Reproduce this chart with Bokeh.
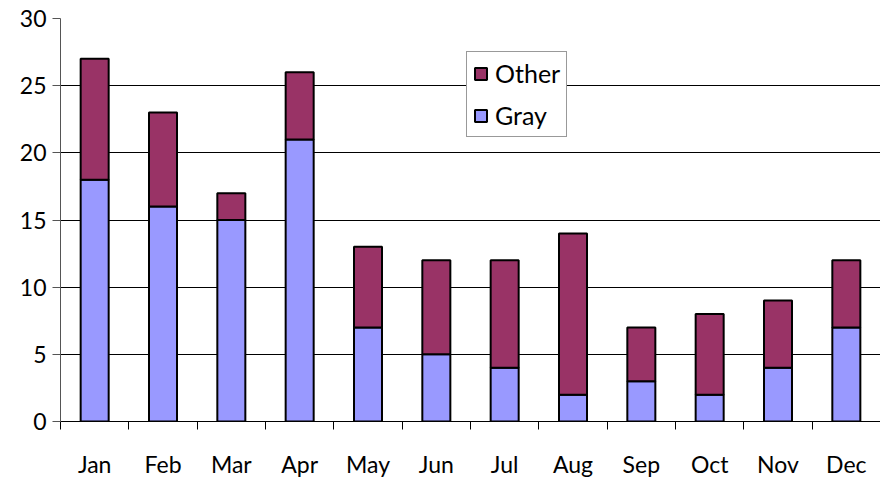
from bokeh.plotting import figure
from bokeh.models import Range1d, LinearAxis, FixedTicker, Legend, LegendItem
from bokeh.embed import file_html
from bokeh.resources import INLINE

months = ["Jan", "Feb", "Mar", "Apr", "May", "Jun", "Jul", "Aug", "Sep", "Oct", "Nov", "Dec"]
gray = [18, 16, 15, 21, 7, 5, 4, 2, 3, 2, 4, 7]
other = [9, 7, 2, 5, 6, 7, 8, 12, 4, 6, 5, 5]
y_ticks = [0, 5, 10, 15, 20, 25, 30]

FONT = "Lato"
x_pos = [i + 0.5 for i in range(len(months))]
data = dict(x=x_pos, Gray=gray, Other=other)

p = figure(width=880, height=480, output_backend="svg", toolbar_location=None,
           x_range=Range1d(0, len(months)), y_range=Range1d(0, 30),
           min_border_left=60, min_border_right=0, min_border_top=18, min_border_bottom=59,
           x_axis_location=None, y_axis_location=None)
p.outline_line_color = None
p.xgrid.visible = False
p.ygrid.grid_line_color = "#000000"
p.ygrid.grid_line_width = 1
p.ygrid.ticker = FixedTicker(ticks=y_ticks)

rs = p.vbar_stack(["Gray", "Other"], x="x", width=0.41, source=data,
                  color=["#9999FF", "#993366"], line_color="black", line_width=2)

yax = LinearAxis(ticker=FixedTicker(ticks=y_ticks))
yax.axis_line_color = "#555555"
yax.major_tick_line_color = "#555555"
yax.major_tick_out = 8
yax.major_tick_in = 0
yax.minor_tick_line_color = None
yax.major_label_text_font = FONT
yax.major_label_text_font_size = "23px"
yax.major_label_text_color = "black"
yax.major_label_standoff = 6
p.add_layout(yax, "left")

xax = LinearAxis(ticker=FixedTicker(ticks=x_pos, minor_ticks=list(range(len(months) + 1))))
xax.major_label_overrides = {x: m for x, m in zip(x_pos, months)}
xax.axis_line_color = "#000000"
xax.major_tick_line_color = None
xax.minor_tick_line_color = "#000000"
xax.minor_tick_out = 8
xax.minor_tick_in = 0
xax.major_label_text_font = FONT
xax.major_label_text_font_size = "23px"
xax.major_label_text_color = "black"
xax.major_label_standoff = 20
p.add_layout(xax, "below")

legend = Legend(items=[LegendItem(label="Other", renderers=[rs[1]]),
                       LegendItem(label="Gray", renderers=[rs[0]])],
                location=(406, 284))
legend.label_text_font = FONT
legend.label_text_font_size = "25px"
legend.label_text_color = "black"
legend.glyph_width = 15
legend.glyph_height = 15
legend.spacing = 12
legend.padding = 6
legend.margin = 0
legend.label_standoff = 7
legend.border_line_color = "#333333"
legend.border_line_width = 1
legend.background_fill_color = "white"
legend.background_fill_alpha = 1
p.add_layout(legend, "center")

open("out.html", "w").write(file_html(p, INLINE))
